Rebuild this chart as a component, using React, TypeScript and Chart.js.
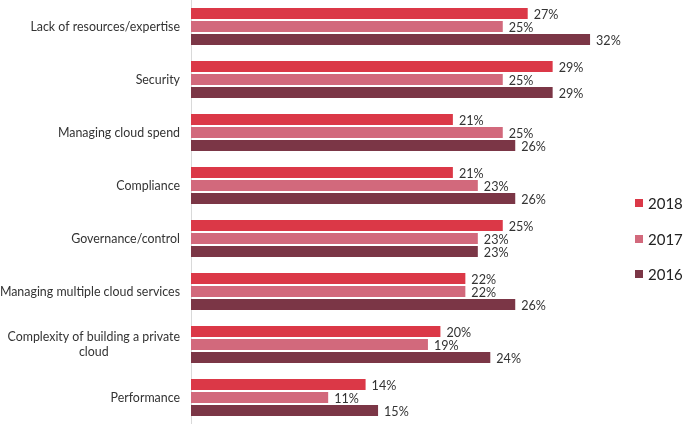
import React, { useEffect, useRef } from "react";
import { Chart, registerables } from "chart.js";
Chart.register(...registerables);

const categories: string[][] = [
  ["Lack of resources/expertise"],
  ["Security"],
  ["Managing cloud spend"],
  ["Compliance"],
  ["Governance/control"],
  ["Managing multiple cloud services"],
  ["Complexity of building a private", "cloud"],
  ["Performance"],
];
const seriesNames = ["2018", "2017", "2016"];
const values2018 = [27, 29, 21, 21, 25, 22, 20, 14];
const values2017 = [25, 25, 25, 23, 23, 22, 19, 11];
const values2016 = [32, 29, 26, 26, 23, 26, 24, 15];
const seriesColors = ["#DB3847", "#D2697C", "#7B3646"];

const FONT = "Lato, 'Open Sans', sans-serif";
const TEXT = "#333333";

const labelsPlugin = {
  id: "customLabels",
  afterDatasetsDraw(chart: any) {
    const ctx = chart.ctx;
    const y = chart.scales.y;
    ctx.save();
    // category labels
    ctx.font = `12.4px ${FONT}`;
    ctx.fillStyle = TEXT;
    ctx.textBaseline = "middle";
    const right = chart.chartArea.left - 11;
    const lh = 15.5;
    categories.forEach((lines, i) => {
      const cy = y.getPixelForValue(i);
      const maxW = Math.max(...lines.map((l) => ctx.measureText(l).width));
      ctx.textAlign = "center";
      const cx = right - maxW / 2;
      lines.forEach((l, j) => {
        const ly = cy + (j - (lines.length - 1) / 2) * lh;
        ctx.fillText(l, cx, ly);
      });
    });
    // value labels
    ctx.font = `12.6px ${FONT}`;
    ctx.textAlign = "left";
    chart.data.datasets.forEach((ds: any, di: number) => {
      const meta = chart.getDatasetMeta(di);
      meta.data.forEach((bar: any, i: number) => {
        ctx.fillText(ds.data[i] + "%", bar.x + 6, bar.y + 1);
      });
    });
    ctx.restore();
  },
};

export default function App() {
  const ref = useRef<HTMLCanvasElement>(null);
  useEffect(() => {
    if (!ref.current) return;
    const all = [values2018, values2017, values2016];
    const chart = new Chart(ref.current, {
      type: "bar",
      data: {
        labels: categories.map((c) => c.join(" ")),
        datasets: all.map((d, i) => ({
          label: seriesNames[i],
          data: d,
          backgroundColor: seriesColors[i],
          borderWidth: 0,
          categoryPercentage: 0.737,
          barPercentage: 0.85,
        })),
      },
      options: {
        indexAxis: "y",
        responsive: false,
        animation: false,
        layout: { padding: { left: 0, right: 70, top: 0, bottom: 0 } },
        plugins: {
          legend: { display: false },
          tooltip: { enabled: false },
        },
        scales: {
          x: { display: false, min: 0, max: 34 },
          y: {
            ticks: { display: false },
            grid: { display: false },
            border: { display: true, color: "#D9D9D9", width: 1 },
            afterFit: (s: any) => {
              s.width = 191;
            },
          },
        },
      },
      plugins: [labelsPlugin],
    });
    return () => chart.destroy();
  }, []);

  const legendTops = [203, 239, 274];
  return (
    <div style={{ position: "absolute", left: 0, top: 0, width: 685, height: 424, background: "#fff" }}>
      <canvas ref={ref} width={685} height={424} style={{ display: "block" }} />
      {seriesNames.map((n, i) => (
        <div
          key={n}
          style={{
            position: "absolute",
            left: 635,
            top: legendTops[i] - 10,
            height: 20,
            display: "flex",
            alignItems: "center",
            fontFamily: FONT,
            fontSize: 15,
            color: "#222",
          }}
        >
          <span style={{ display: "inline-block", width: 8, height: 8, background: seriesColors[i], marginRight: 5 }} />
          <span>{n}</span>
        </div>
      ))}
    </div>
  );
}
